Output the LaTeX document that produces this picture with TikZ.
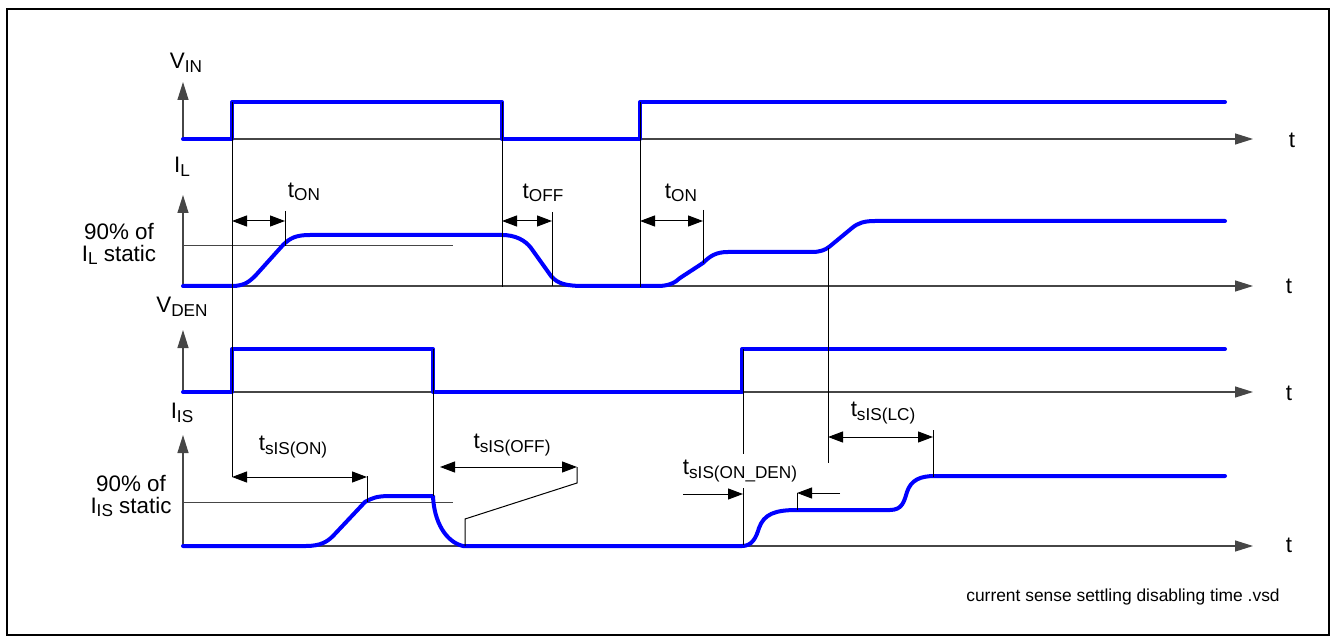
\documentclass[tikz,border=0pt]{standalone}
\usepackage{fontspec}
\setmainfont{Liberation Sans}
\usetikzlibrary{arrows.meta}
\definecolor{sigblue}{RGB}{0,0,255}
\definecolor{axisgray}{RGB}{70,70,70}
\newcommand\lowidx[1]{\raisebox{-0.3ex}{\fontsize{8.6}{9}\selectfont #1}}
\tikzset{
  signal/.style={draw=sigblue, line width=2pt, line join=round, line cap=round},
  axisline/.style={draw=axisgray, line width=0.6pt, -{Triangle[length=9pt,width=5.5pt]}},
  marker/.style={draw=black, line width=0.5pt},
  levelline/.style={draw=axisgray, line width=0.5pt},
  dimarrow/.style={draw=black, line width=0.5pt,
    {Triangle[length=7.5pt,width=5.5pt]}-{Triangle[length=7.5pt,width=5.5pt]}},
  onearrow/.style={draw=black, line width=0.5pt, -{Triangle[length=7.5pt,width=5.5pt]}},
  axislabel/.style={font=\fontsize{11.2}{12}\selectfont, inner sep=0pt},
  pctlabel/.style={font=\fontsize{11.2}{11}\selectfont, align=center, inner sep=0pt},
  filetag/.style={font=\fontsize{8.7}{9}\selectfont, inner sep=0pt}
}
\begin{document}
\begin{tikzpicture}[x=0.5pt, y=-0.5pt]
\useasboundingbox (0,0) rectangle (1333,636);
\draw[line width=0.6pt] (7,9) rectangle (1329,635);

% axes
\draw[axisline] (183,139) -- (183,82);
\draw[axisline] (183,139) -- (1253,139);
\draw[axisline] (183,286) -- (183,195);
\draw[axisline] (183,286) -- (1253,286);
\draw[axisline] (183,392) -- (183,330);
\draw[axisline] (183,392) -- (1253,392);
\draw[axisline] (183,546) -- (183,435);
\draw[axisline] (183,546) -- (1253,546);

\node[axislabel] (vinlbl) at (186,63) {V\lowidx{IN}};
\node[axislabel] (illbl) at (182,167) {I\lowidx{L}};
\node[axislabel] (vdenlbl) at (182,307) {V\lowidx{DEN}};
\node[axislabel] (islbl) at (182,413) {I\lowidx{IS}};
\node[axislabel] (tvin) at (1292,140) {t};
\node[axislabel] (til) at (1289,286) {t};
\node[axislabel] (tvden) at (1289,393) {t};
\node[axislabel] (tis) at (1289,545) {t};

% 90% levels
\draw[levelline] (183,246) -- (453,246);
\draw[levelline] (183,502) -- (453,502);
\node[pctlabel] (ilpct) at (119,244) {90\% of\\I\lowidx{L} static};
\node[pctlabel] (ispct) at (131,496) {90\% of\\I\lowidx{IS} static};

% signals
\draw[signal] (183,139) -- (232,139) -- (232,102) -- (502,102) -- (502,139) -- (640,139) -- (640,102) -- (1225,102);
\draw[signal] (183,286) -- (232,286) .. controls (245,286) and (250,281) .. (256,275) -- (283,245)
  .. controls (290,238) and (296,235) .. (310,235) -- (502,235)
  .. controls (515,235) and (525,240) .. (531,248) -- (551,276)
  .. controls (558,284) and (566,286) .. (585,286) -- (658,286)
  .. controls (668,286) and (675,283) .. (680,278) -- (703,263)
  .. controls (710,256) and (716,252) .. (728,252) -- (812,252)
  .. controls (820,252) and (825,250) .. (829,247) -- (852,228)
  .. controls (858,223) and (864,221) .. (875,221) -- (1225,221);
\draw[signal] (183,392) -- (232,392) -- (232,349) -- (433,349) -- (433,392) -- (742,392) -- (742,349) -- (1225,349);
\draw[signal] (183,546) -- (306,546) .. controls (320,546) and (327,542) .. (333,536) -- (365,502)
  .. controls (372,498) and (377,496) .. (390,496) -- (433,496)
  .. controls (434,522) and (446,542) .. (463,546) -- (742,546)
  .. controls (752,546) and (756,538) .. (759,528)
  .. controls (764,514) and (775,510) .. (797,510) -- (890,510)
  .. controls (902,510) and (904,502) .. (907,492)
  .. controls (911,480) and (920,476) .. (935,476) -- (1225,476);

% timing markers
\draw[marker] (232,102) -- (232,477);
\draw[marker] (502,102) -- (502,287);
\draw[marker] (640,102) -- (640,287);
\draw[marker] (285,211) -- (285,246);
\draw[marker] (552,212) -- (552,286);
\draw[marker] (703,210) -- (703,263);
\draw[marker] (828,248) -- (828,463);
\draw[marker] (433,349) -- (433,496);
\draw[marker] (743,349) -- (743,545);
\draw[marker] (367,476) -- (367,502);
\draw[marker] (933,430) -- (933,477);
\draw[marker] (797,493) -- (797,510);
\draw[marker] (577,467) -- (577,483) -- (465,519) -- (465,546);

\draw[dimarrow] (232,221) -- (285,221);
\draw[dimarrow] (502,221) -- (552,221);
\draw[dimarrow] (640,221) -- (703,221);
\draw[dimarrow] (232,477) -- (367,477);
\draw[dimarrow] (440,467) -- (577,467);
\draw[dimarrow] (828,437) -- (933,437);
\draw[onearrow] (683,494) -- (743,494);
\draw[onearrow] (840,493) -- (797,493);

\node[axislabel] (ton1) at (304,192) {t\lowidx{ON}};
\node[axislabel] (toff) at (543,193) {t\lowidx{OFF}};
\node[axislabel] (ton2) at (681,193) {t\lowidx{ON}};
\node[axislabel] (tsison) at (293,447) {t\lowidx{sIS(ON)}};
\node[axislabel] (tsisoff) at (512,445) {t\lowidx{sIS(OFF)}};
\node[axislabel] (tsislc) at (883,413) {t\lowidx{sIS(LC)}};
\node[axislabel, fill=white, inner ysep=3pt] (tsisden) at (740,471) {t\lowidx{sIS(ON\_DEN)}};

\node[filetag] (vsdname) at (1123,597) {current sense settling disabling time .vsd};
\end{tikzpicture}
\end{document}
